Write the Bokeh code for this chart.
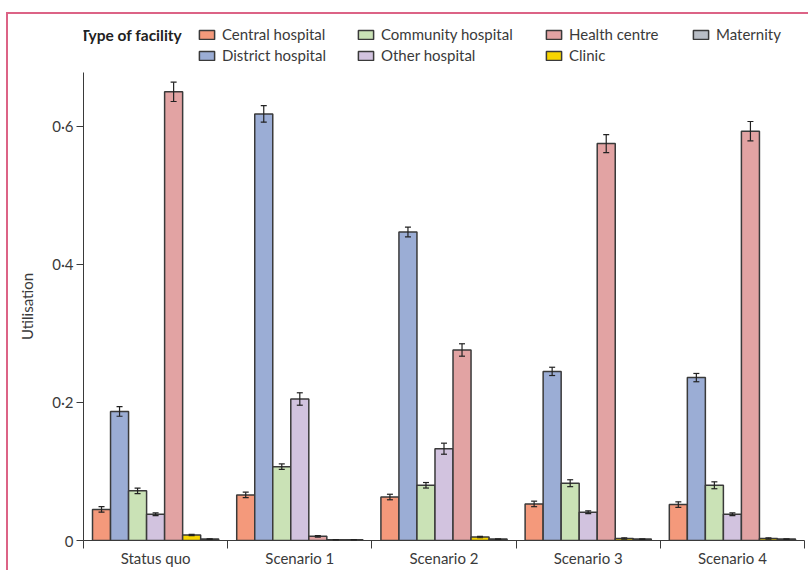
from bokeh.plotting import figure
from bokeh.layouts import column
from bokeh.models import (FixedTicker, CustomJSTickFormatter, Range1d, Legend, LegendItem,
                          Label, Whisker, TeeHead, ColumnDataSource)
from bokeh.embed import file_html
from bokeh.resources import INLINE

# ---------------- data ----------------
scenarios = ["Status quo", "Scenario 1", "Scenario 2", "Scenario 3", "Scenario 4"]
facilities = ["Central hospital", "District hospital", "Community hospital",
              "Other hospital", "Health centre", "Clinic", "Maternity"]

central_hospital   = [0.045, 0.066, 0.063, 0.053, 0.052]
district_hospital  = [0.187, 0.618, 0.447, 0.245, 0.236]
community_hospital = [0.072, 0.107, 0.080, 0.083, 0.080]
other_hospital     = [0.038, 0.205, 0.133, 0.041, 0.038]
health_centre      = [0.650, 0.006, 0.276, 0.575, 0.593]
clinic             = [0.008, 0.001, 0.005, 0.003, 0.003]
maternity          = [0.002, 0.001, 0.002, 0.002, 0.002]

central_hospital_err   = [0.004, 0.004, 0.004, 0.004, 0.004]
district_hospital_err  = [0.007, 0.012, 0.007, 0.006, 0.006]
community_hospital_err = [0.004, 0.004, 0.004, 0.005, 0.005]
other_hospital_err     = [0.002, 0.009, 0.008, 0.002, 0.002]
health_centre_err      = [0.014, 0.001, 0.009, 0.013, 0.014]
clinic_err             = [0.001, 0.000, 0.001, 0.001, 0.001]
maternity_err          = [0.0005, 0.0, 0.0, 0.0, 0.0]

y_ticks = [0, 0.2, 0.4, 0.6]

series = [central_hospital, district_hospital, community_hospital, other_hospital,
          health_centre, clinic, maternity]
errors = [central_hospital_err, district_hospital_err, community_hospital_err,
          other_hospital_err, health_centre_err, clinic_err, maternity_err]
colors = ["#f4997b", "#9badd5", "#cae2b6", "#d2c3df", "#e2a3a3", "#f8d500", "#b9bec6"]

FONT = "Lato"
FS = "15px"
TXT = "#3a3a3a"
EDGE = "#3a3a3a"

# ---------------- main chart ----------------
p = figure(width=800, height=498, output_backend="svg", toolbar_location=None,
           x_range=Range1d(0, len(scenarios)), y_range=Range1d(0, 0.678),
           min_border_left=75, min_border_top=0, min_border_bottom=30, min_border_right=4)
p.outline_line_color = None
p.xgrid.visible = False
p.ygrid.visible = False

# ---------------- legend strip (shares the data sources) ----------------
LH = 58
lf = figure(width=800, height=LH, output_backend="svg", toolbar_location=None,
            x_range=Range1d(0, len(scenarios)), y_range=Range1d(10, 11),
            x_axis_type=None, y_axis_type=None,
            min_border_left=75, min_border_right=4, min_border_top=0, min_border_bottom=0)
lf.outline_line_color = None
lf.xgrid.visible = False
lf.ygrid.visible = False

bw = 0.125
n = len(facilities)
leg_renderers = []
for j, (vals, errs, col) in enumerate(zip(series, errors, colors)):
    xs = [i + 0.5 + (j - (n - 1) / 2) * bw for i in range(len(scenarios))]
    src = ColumnDataSource(dict(x=xs, top=vals,
                                upper=[v + e for v, e in zip(vals, errs)],
                                lower=[v - e for v, e in zip(vals, errs)]))
    p.vbar(x="x", top="top", width=bw, bottom=0, source=src,
           fill_color=col, line_color=EDGE, line_width=1.5)
    w = Whisker(source=src, base="x", upper="upper", lower="lower", dimension="height",
                line_color="#222222", line_width=1.2, level="overlay",
                upper_head=TeeHead(size=6, line_color="#222222", line_width=1.2),
                lower_head=TeeHead(size=6, line_color="#222222", line_width=1.2))
    p.add_layout(w)
    # same bars in the legend strip, hidden (only used for legend swatches)
    leg_renderers.append(lf.vbar(x="x", top="top", width=bw, bottom=0, source=src,
                                 fill_color=col, line_color=EDGE, line_width=1.5,
                                 visible=False))

xa = p.xaxis[0]
xa.ticker = FixedTicker(ticks=[i + 0.5 for i in range(len(scenarios))],
                        minor_ticks=list(range(len(scenarios) + 1)))
xa.formatter = CustomJSTickFormatter(args=dict(labels=scenarios),
                                     code="return labels[Math.floor(tick)];")
xa.major_tick_in = 0
xa.major_tick_out = 0
xa.minor_tick_in = 0
xa.minor_tick_out = 8
xa.minor_tick_line_color = EDGE
xa.axis_line_color = EDGE
xa.major_label_standoff = 0
xa.major_label_text_font = FONT
xa.major_label_text_font_size = FS
xa.major_label_text_color = TXT

ya = p.yaxis[0]
ya.ticker = FixedTicker(ticks=y_ticks)
ya.formatter = CustomJSTickFormatter(
    code="return tick == 0 ? '0' : tick.toFixed(1).replace('.', '\u00b7');")
ya.major_tick_in = 0
ya.major_tick_out = 7
ya.minor_tick_line_color = None
ya.major_tick_line_color = EDGE
ya.axis_line_color = EDGE
ya.major_label_standoff = 3
ya.major_label_text_font = FONT
ya.major_label_text_font_size = FS
ya.major_label_text_color = TXT
ya.axis_label = "Utilisation"
ya.axis_label_text_font = FONT
ya.axis_label_text_font_size = FS
ya.axis_label_text_font_style = "normal"
ya.axis_label_text_color = TXT
ya.axis_label_standoff = 13

# legend columns, positions relative to the (aligned) frame left edge
col_x = [114, 273, 461, 608]
row_h = 21
first_row_center = 20
for c in range(4):
    idx = [k for k in (2 * c, 2 * c + 1) if k < n]
    items = [LegendItem(label=facilities[k], renderers=[leg_renderers[k]]) for k in idx]
    top = first_row_center - row_h / 2
    bottom = top + len(idx) * row_h
    leg = Legend(items=items, location=(col_x[c], LH - bottom),
                 orientation="vertical", border_line_color=None,
                 background_fill_alpha=0, padding=0, margin=0, spacing=0,
                 glyph_width=19, glyph_height=11, label_height=row_h,
                 label_standoff=6, label_text_font=FONT, label_text_font_size=FS,
                 label_text_color=TXT)
    lf.add_layout(leg)

title = Label(x=-3, y=LH - first_row_center, x_units="screen", y_units="screen",
              text="Type of facility", text_font=FONT, text_font_size="15.5px",
              text_font_style="bold", text_color="#222222", text_baseline="middle",
              text_align="left")
lf.add_layout(title)

layout = column(lf, p, spacing=0)
layout.styles = {"border-left": "2px solid #dc6386", "border-top": "2px solid #dc6386",
                 "margin-left": "6px", "margin-top": "12px"}

open("out.html", "w").write(file_html(layout, INLINE))
